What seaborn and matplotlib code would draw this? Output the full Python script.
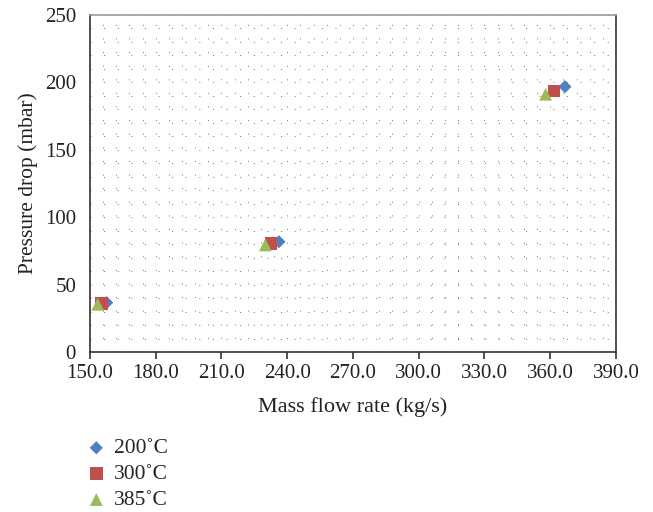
import numpy as np
import pandas as pd
import matplotlib
matplotlib.use("Agg")
import matplotlib.pyplot as plt
import seaborn as sns
from matplotlib.ticker import MultipleLocator, FormatStrFormatter

sns.set_style("white")
plt.rcParams['font.family'] = ['Liberation Serif', 'DejaVu Serif']

# values
temps = ["200˚C", "300˚C", "385˚C"]
flow_200 = [157.6, 236.2, 366.7]
dp_200 = [36.6, 81.8, 196.8]
flow_300 = [155.3, 232.6, 361.8]
dp_300 = [36.1, 80.6, 193.6]
flow_385 = [153.5, 230.0, 357.9]
dp_385 = [35.4, 79.4, 191.2]

df = pd.concat([
    pd.DataFrame({"flow": flow_200, "dp": dp_200, "T": temps[0]}),
    pd.DataFrame({"flow": flow_300, "dp": dp_300, "T": temps[1]}),
    pd.DataFrame({"flow": flow_385, "dp": dp_385, "T": temps[2]}),
])

colors = {temps[0]: "#4F81BD", temps[1]: "#C0504D", temps[2]: "#9BBB59"}
markers = {temps[0]: "D", temps[1]: "s", temps[2]: "^"}
sizes = {temps[0]: 45, temps[1]: 80, temps[2]: 85}

fig = plt.figure(figsize=(6.53, 5.12), dpi=100)
ax = fig.add_axes([90/653, 1-352/512, 526/653, 337/512])

for t in temps:
    sub = df[df["T"] == t]
    sns.scatterplot(data=sub, x="flow", y="dp", color=colors[t], marker=markers[t],
                    s=sizes[t], edgecolor="none", ax=ax, label=t, zorder=3)

ax.set_xlim(150, 390)
ax.set_ylim(0, 250)
ax.xaxis.set_major_locator(MultipleLocator(30))
ax.xaxis.set_major_formatter(FormatStrFormatter("%.1f"))
ax.yaxis.set_major_locator(MultipleLocator(50))
ax.xaxis.set_minor_locator(MultipleLocator(6))
ax.yaxis.set_minor_locator(MultipleLocator(10))
ax.grid(which="both", color="#777777", linewidth=0.7, linestyle=(0, (1, 13)))
ax.set_axisbelow(True)

for s in ["left", "bottom", "right"]:
    ax.spines[s].set_color("#333333")
    ax.spines[s].set_linewidth(1.2)
ax.spines["top"].set_color("#999999")
ax.spines["top"].set_linewidth(1.2)

ax.tick_params(axis="both", which="major", direction="out", length=5, width=1.2,
               color="#333333", labelsize=15, labelcolor="#222222")
ax.tick_params(axis="y", which="major", pad=5)
ax.tick_params(axis="x", which="major", pad=4, bottom=True)
ax.tick_params(which="minor", length=0)

ax.set_xlabel("Mass flow rate (kg/s)", fontsize=16, color="#222222", labelpad=10)
ax.set_ylabel("Pressure drop (mbar)", fontsize=15.5, color="#222222", labelpad=5)

h, l = ax.get_legend_handles_labels()
ax.get_legend().remove()
fig.legend(h, l, loc="upper left", bbox_to_anchor=(64/653, 1-419/512), frameon=False,
           fontsize=15.5, handletextpad=0.2, labelspacing=0.27, handlelength=1.2)

fig.savefig("out.png", dpi=100)
